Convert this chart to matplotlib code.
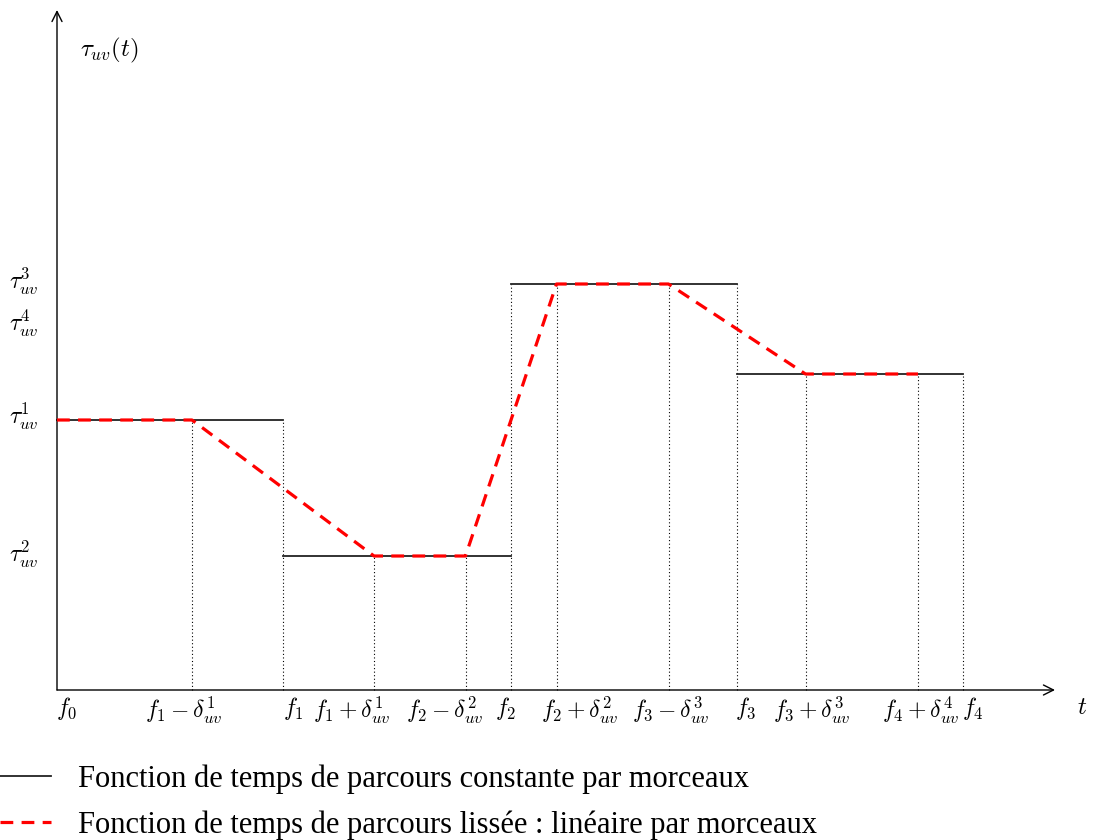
import matplotlib.pyplot as plt
from matplotlib.lines import Line2D

plt.rcParams['mathtext.fontset'] = 'cm'

# breakpoints f0..f4 and constant levels tau^1..tau^4 on each interval
breaks = [0.0, 2.26, 4.54, 6.80, 9.06]
levels = [2.70, 1.34, 4.06, 3.16]
# smoothing half-widths delta^1..delta^4 (the last one is negative)
deltas = [0.91, 0.455, 0.685, -0.45]

break_labels = [r'$f_0$', r'$f_1$', r'$f_2$', r'$f_3$', r'$f_4$']
level_labels = [r'$\tau_{uv}^1$', r'$\tau_{uv}^2$', r'$\tau_{uv}^3$', r'$\tau_{uv}^4$']
knot_labels = [r'$f_1-\delta_{uv}^1$', r'$f_1+\delta_{uv}^1$',
               r'$f_2-\delta_{uv}^2$', r'$f_2+\delta_{uv}^2$',
               r'$f_3-\delta_{uv}^3$', r'$f_3+\delta_{uv}^3$',
               r'$f_4+\delta_{uv}^4$']

fig = plt.figure(figsize=(10.98, 8.40), dpi=100)
ax = fig.add_axes([0, 0, 1, 1])
ax.set_xlim(-0.57, 10.41)
ax.set_ylim(-1.50, 6.90)
ax.axis('off')

# smoothed knots
kx = [breaks[0]]
ky = [levels[0]]
for i in range(1, 4):
    kx += [breaks[i] - deltas[i - 1], breaks[i] + deltas[i - 1]]
    ky += [levels[i - 1], levels[i]]
kx.append(breaks[4] + deltas[3])
ky.append(levels[3])

# dotted verticals
dots = (0, (1, 2.2))
for x, y in zip(kx[1:], ky[1:]):
    ax.plot([x, x], [0, y], color='black', lw=0.8, ls=dots)
for i in range(1, 5):
    top = levels[i - 1] if i == 4 else max(levels[i - 1], levels[i])
    ax.plot([breaks[i], breaks[i]], [0, top], color='black', lw=0.8, ls=dots)

# piecewise constant function
for i in range(4):
    ax.plot([breaks[i], breaks[i + 1]], [levels[i], levels[i]],
            color='#222222', lw=1.3, zorder=3)

# smoothed piecewise linear function
ax.plot(kx, ky, color='red', lw=2.3, ls=(0, (4, 2.6)), zorder=4)

# axes with arrows
ax.annotate('', xy=(9.98, 0), xytext=(0, 0),
            arrowprops=dict(arrowstyle='->', lw=1.0, mutation_scale=18, color='black',
                            shrinkA=0, shrinkB=0))
ax.annotate('', xy=(0, 6.80), xytext=(0, 0),
            arrowprops=dict(arrowstyle='->', lw=1.0, mutation_scale=18, color='black',
                            shrinkA=0, shrinkB=0))

fs = 17
ax.text(0.23, 6.40, r'$\tau_{uv}(t)$', fontsize=fs + 1, ha='left', va='center')
ax.text(10.25, -0.17, r'$t$', fontsize=fs + 1, ha='center', va='center')

# y labels
y_offsets = [0.04, 0.02, 0.03, 0.51]
for lab, y, dy in zip(level_labels, levels, y_offsets):
    ax.text(-0.33, y + dy, lab, fontsize=fs, ha='center', va='center')

# x labels
bx_offsets = [0.10, 0.10, -0.05, 0.09, 0.10]
for lab, x, dx in zip(break_labels, breaks, bx_offsets):
    ax.text(x + dx, -0.05, lab, fontsize=fs, ha='center', va='top')
kx_offsets = [-0.08, -0.22, -0.21, 0.23, 0.02, 0.06, 0.03]
for lab, x, dx in zip(knot_labels, kx[1:], kx_offsets):
    ax.text(x + dx, -0.05, lab, fontsize=fs, ha='center', va='top')

# legend
fig.legend([Line2D([], [], color='#222222', lw=1.3),
            Line2D([], [], color='red', lw=2.3, ls=(0, (4, 2.6)))],
           ['Fonction de temps de parcours constante par morceaux',
            'Fonction de temps de parcours lissée : linéaire par morceaux'],
           loc='upper left', bbox_to_anchor=(0.0, 1 - 764 / 840), frameon=False,
           prop={'family': 'Liberation Serif', 'size': 22},
           handlelength=1.68, handletextpad=0.88, borderpad=0, borderaxespad=0,
           labelspacing=0.55)

fig.savefig('out.png', dpi=100)
